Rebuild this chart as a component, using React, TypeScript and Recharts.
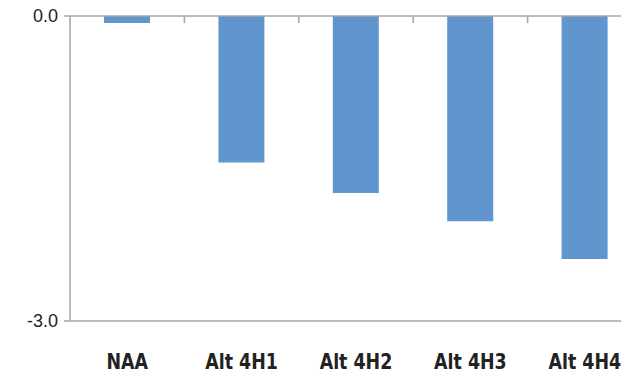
import React from 'react';
import { BarChart, Bar, XAxis, YAxis, ReferenceLine } from 'recharts';

// scenario names and the change
const scenarios = ['NAA', 'Alt 4H1', 'Alt 4H2', 'Alt 4H3', 'Alt 4H4'];
const change = [-0.07, -1.44, -1.74, -2.02, -2.39];
const yTicks = [-3, 0];

const data = scenarios.map((name, i) => ({ name, value: change[i] }));

const AXIS = '#a6a6a6';
const BAR = '#6096cd';
const PLOT_TOP = 16;

const CategoryTick = (props: any) => {
    const { x, y, payload } = props;
    const half = payload && payload.offset ? payload.offset : 57;
    return (
        <g>
            {/* small marks on the zero line between categories */}
            <line x1={x + half} y1={PLOT_TOP} x2={x + half} y2={PLOT_TOP + 7} stroke={AXIS} strokeWidth={1.5} />
            <g transform={`translate(${x},${y + 48}) scale(0.88,1)`}>
                <text
                    x={0}
                    y={0}
                    textAnchor="middle"
                    fontFamily="'Liberation Sans Narrow', 'DejaVu Sans Condensed', sans-serif"
                    fontWeight="bold"
                    fontSize={22}
                    fill="#222"
                >
                    {payload.value}
                </text>
            </g>
        </g>
    );
};

const App = () => {
    return (
        <div style={{ position: 'absolute', left: 0, top: 0, width: 621, height: 379, overflow: 'hidden', background: '#fff' }}>
            <BarChart
                width={660}
                height={379}
                data={data}
                margin={{ top: PLOT_TOP, right: 18, left: 0, bottom: 0 }}
                barSize={46}
            >
                <XAxis
                    dataKey="name"
                    height={58}
                    axisLine={{ stroke: AXIS, strokeWidth: 1.5 }}
                    tickLine={false}
                    tickSize={0}
                    tickMargin={0}
                    interval={0}
                    tick={<CategoryTick />}
                />
                <YAxis
                    width={70}
                    domain={[-3, 0]}
                    ticks={yTicks}
                    allowDataOverflow
                    axisLine={{ stroke: AXIS, strokeWidth: 1.5 }}
                    tickLine={{ stroke: AXIS, strokeWidth: 1.5 }}
                    tickSize={6}
                    tickMargin={6}
                    tickFormatter={(v: number) => v.toFixed(1)}
                    tick={{ fontFamily: "'Liberation Sans Narrow', sans-serif", fontSize: 18, fill: '#222' }}
                />
                <Bar dataKey="value" fill={BAR} isAnimationActive={false} />
                <ReferenceLine y={0} stroke={AXIS} strokeWidth={1.5} />
            </BarChart>
        </div>
    );
};

export default App;
